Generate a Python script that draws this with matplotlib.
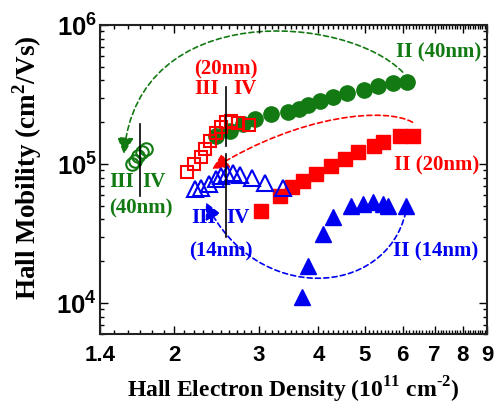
import numpy as np
import matplotlib
matplotlib.use('Agg')
import matplotlib.pyplot as plt
from matplotlib.path import Path
from matplotlib.patches import FancyArrowPatch
from matplotlib.ticker import FixedLocator, FixedFormatter, MultipleLocator, LogLocator, NullFormatter

plt.rcParams['mathtext.fontset'] = 'custom'
plt.rcParams['mathtext.rm'] = 'Liberation Serif:bold'
plt.rcParams['mathtext.bf'] = 'Liberation Sans:bold'

GREEN = '#137a13'
RED = '#ff0000'
BLUE = '#0000f0'

# II (40nm) - filled circles
g2_x = [2.44, 2.62, 2.78, 2.95, 3.18, 3.46, 3.65, 3.81, 4.04, 4.30, 4.60, 4.97, 5.32, 5.74, 6.14]
g2_y = [1.59e5, 1.73e5, 1.94e5, 2.11e5, 2.29e5, 2.37e5, 2.49e5, 2.66e5, 2.84e5, 3.03e5,
        3.24e5, 3.41e5, 3.64e5, 3.83e5, 3.89e5]
# III/IV (40nm) - open circles
g34_x = [1.63, 1.66, 1.68, 1.71, 1.75]
g34_y = [1.00e5, 1.05e5, 1.14e5, 1.22e5, 1.28e5]

# II (20nm) - filled squares
r2_x = [3.03, 3.33, 3.53, 3.72, 3.95, 4.26, 4.54, 4.85, 5.22, 5.47, 5.91, 6.32]
r2_y = [4.59e4, 5.88e4, 6.84e4, 7.55e4, 8.47e4, 9.68e4, 1.09e5, 1.22e5, 1.35e5, 1.44e5, 1.59e5, 1.59e5]
# III/IV (20nm) - open squares
r34_x = [2.13, 2.20, 2.27, 2.32, 2.38, 2.44, 2.50, 2.56, 2.63, 2.72, 2.86]
r34_y = [8.76e4, 1.00e5, 1.12e5, 1.28e5, 1.46e5, 1.67e5, 1.85e5, 2.00e5, 2.04e5, 1.97e5, 1.91e5]

# II (14nm) - filled triangles
b2_x = [3.70, 3.81, 4.10, 4.30, 4.67, 4.95, 5.19, 5.45, 5.58, 6.09]
b2_y = [1.10e4, 1.85e4, 3.13e4, 4.16e4, 4.99e4, 5.16e4, 5.33e4, 5.16e4, 4.99e4, 4.99e4]
# III/IV (14nm) - open triangles
b34_x = [2.21, 2.28, 2.36, 2.44, 2.51, 2.58, 2.66, 2.75, 2.91, 3.10, 3.38]
b34_y = [6.61e4, 6.72e4, 7.18e4, 7.80e4, 8.19e4, 8.47e4, 8.62e4, 8.34e4, 7.93e4, 7.30e4, 6.72e4]

# III|IV boundary markers: x, y_low, y_high
bounds = [(1.70, 5.9e4, 1.94e5), (2.56, 1.35e5, 3.58e5), (2.56, 2.99e4, 1.18e5)]

# dashed guide arrows (bezier control points, data units)
green_arc = [(6.00, 4.59e5), (4.56, 1.2e6), (1.68, 1.54e6), (1.57, 1.18e5)]
red_arc = [(6.29, 2.0e5), (5.53, 2.57e5), (3.67, 2.29e5), (2.40, 9.2e4)]
blue_arc = [(6.09, 4.52e4), (5.53, 1.07e4), (2.95, 9.8e3), (2.33, 5.3e4)]

xticks = [1.4, 2, 3, 4, 5, 6, 7, 8, 9]
xticklabels = ['1.4', '2', '3', '4', '5', '6', '7', '8', '9']
yticks = [1e4, 1e5, 1e6]
yticklabels = [r'$\mathbf{10^{4}}$', r'$\mathbf{10^{5}}$', r'$\mathbf{10^{6}}$']

fig = plt.figure(figsize=(5, 4.14), dpi=100)
ax = fig.add_axes([0.2, 0.191, 0.774, 0.746])
ax.set_xscale('log')
ax.set_yscale('log')

ax.plot(g2_x, g2_y, 'o', color=GREEN, ms=11)
ax.plot(r2_x, r2_y, 's', color=RED, ms=10)
ax.plot(b2_x, b2_y, '^', color=BLUE, ms=11.5)
ax.plot(g34_x, g34_y, 'o', mfc='none', mec=GREEN, mew=1.5, ms=9)
ax.plot(r34_x, r34_y, 's', mfc='none', mec=RED, mew=1.5, ms=8.5)
ax.plot(b34_x, b34_y, '^', mfc='none', mec=BLUE, mew=1.5, ms=11)

for bx, ylo, yhi in bounds:
    ax.plot([bx, bx], [ylo, yhi], color='k', lw=1.2)

codes = [Path.MOVETO, Path.CURVE4, Path.CURVE4, Path.CURVE4]
for pts, c in [(green_arc, GREEN), (red_arc, RED), (blue_arc, BLUE)]:
    arr = FancyArrowPatch(path=Path(pts, codes), arrowstyle='-|>,head_length=0.5,head_width=0.25',
                          mutation_scale=20, color=c, lw=1.2, linestyle=(0, (3, 2)))
    ax.add_patch(arr)

tfont = dict(family='Liberation Serif', weight='bold', fontsize=15, ha='center', va='center',
             transform=ax.transAxes)
ax.text(0.876, 0.916, 'II (40nm)', color=GREEN, **tfont)
ax.text(0.057, 0.495, 'III', color=GREEN, **tfont)
ax.text(0.140, 0.495, 'IV', color=GREEN, **tfont)
ax.text(0.106, 0.411, '(40nm)', color=GREEN, **tfont)
ax.text(0.326, 0.858, '(20nm)', color=RED, **tfont)
ax.text(0.276, 0.796, 'III', color=RED, **tfont)
ax.text(0.375, 0.796, 'IV', color=RED, **tfont)
ax.text(0.871, 0.550, 'II (20nm)', color=RED, **tfont)
ax.text(0.269, 0.379, 'III', color=BLUE, **tfont)
ax.text(0.357, 0.379, 'IV', color=BLUE, **tfont)
ax.text(0.313, 0.269, '(14nm)', color=BLUE, **tfont)
ax.text(0.866, 0.269, 'II (14nm)', color=BLUE, **tfont)

ax.set_xlim(1.4, 9)
ax.set_ylim(6e3, 1e6)
ax.xaxis.set_major_locator(FixedLocator(xticks))
ax.xaxis.set_major_formatter(FixedFormatter(xticklabels))
ax.xaxis.set_minor_locator(MultipleLocator(0.1))
ax.xaxis.set_minor_formatter(NullFormatter())
ax.yaxis.set_major_locator(FixedLocator(yticks))
ax.yaxis.set_major_formatter(FixedFormatter(yticklabels))
ax.yaxis.set_minor_locator(LogLocator(base=10, subs=range(2, 10)))
ax.yaxis.set_minor_formatter(NullFormatter())

ax.tick_params(which='both', direction='in', top=True, right=True, width=1)
ax.tick_params(which='major', length=6)
ax.tick_params(which='minor', length=3)
ax.tick_params(axis='x', which='major', pad=7, labelsize=16)
ax.tick_params(axis='y', which='major', pad=2, labelsize=18.5)
for lab in ax.get_xticklabels():
    lab.set_family('Liberation Sans')
    lab.set_weight('bold')
for s in ax.spines.values():
    s.set_linewidth(1.5)
    s.set_color('#222222')

ax.set_xlabel('Hall Electron Density (10$^{11}$ cm$^{\u20102}$)', family='Liberation Serif',
              weight='bold', fontsize=17)
ax.set_ylabel(r'Hall Mobility (cm$^{2}$/Vs)', family='Liberation Serif', weight='bold', fontsize=19.5)
ax.xaxis.set_label_coords(0.5, -0.13)
ax.yaxis.set_label_coords(-0.145, 0.54)

fig.savefig('out.png', dpi=100)
